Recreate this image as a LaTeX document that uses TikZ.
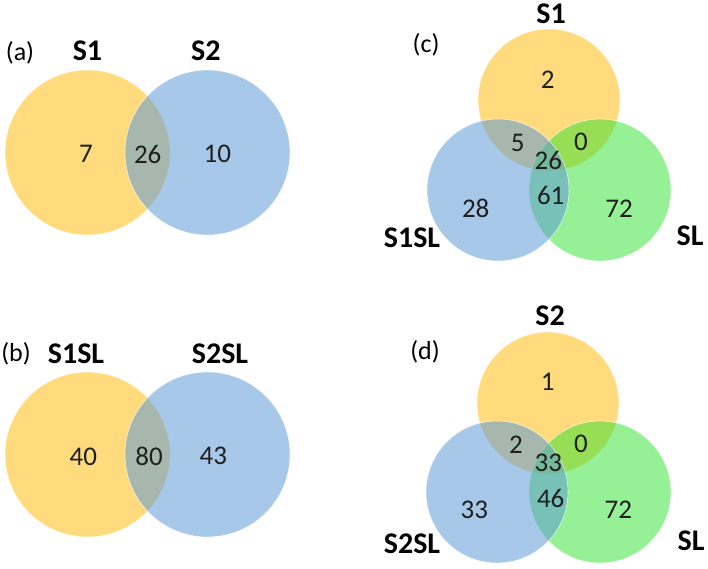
\documentclass[tikz,border=0pt]{standalone}
\usepackage{fontspec}
\setmainfont{Carlito}
\begin{document}
\begin{tikzpicture}[x=1pt,y=-1pt,
  vset/.style={circle, inner sep=0pt, fill opacity=0.55, draw=white, draw opacity=0.7, line width=0.6pt},
  ycirc/.style={vset, fill={rgb,255:red,255;green,190;blue,20}},
  bcirc/.style={vset, fill={rgb,255:red,95;green,155;blue,213}},
  gcirc/.style={vset, fill opacity=0.5, fill={rgb,255:red,45;green,225;blue,45}},
  num/.style={inner sep=0pt, font=\fontsize{27}{27}\selectfont, text=black!88},
  setlab/.style={inner sep=0pt, font=\fontsize{30}{30}\selectfont\bfseries},
  panel/.style={inner sep=0pt, font=\fontsize{26}{26}\selectfont}]
\useasboundingbox (0,0) rectangle (708,568);

% (a)
\node[ycirc, minimum size=165pt] (a1) at (87.5,152.5) {};
\node[bcirc, minimum size=165pt] (a2) at (207.5,152.5) {};
\node[panel] (pa) at (20,52.7) {(a)};
\node[setlab] (la1) at (87.5,51) {S1};
\node[setlab] (la2) at (205.8,51) {S2};
\node[num] (na1) at (86,154) {7};
\node[num] (na2) at (147.7,154) {26};
\node[num] (na3) at (217.3,154) {10};

% (b)
\node[ycirc, minimum size=165pt] (b1) at (87.5,454.5) {};
\node[bcirc, minimum size=165pt] (b2) at (207.5,454.5) {};
\node[panel] (pb) at (16,353.8) {(b)};
\node[setlab] (lb1) at (76,353.5) {S1SL};
\node[setlab] (lb2) at (220,353.5) {S2SL};
\node[num] (nb1) at (83.3,456.7) {40};
\node[num] (nb2) at (149,456.7) {80};
\node[num] (nb3) at (213.3,455.7) {43};

% (c)
\node[ycirc, minimum size=142pt] (c1) at (549,100) {};
\node[gcirc, minimum size=142pt] (c3) at (600,190) {};
\node[bcirc, minimum size=142pt] (c2) at (498,190) {};
\node[panel] (pc) at (426,45) {(c)};
\node[setlab] (lc1) at (551,14) {S1};
\node[setlab] (lc2) at (412,238) {S1SL};
\node[setlab] (lc3) at (690,236) {SL};
\node[num] (nc1) at (547.7,80) {2};
\node[num] (nc2) at (517.7,142.7) {5};
\node[num] (nc3) at (581,141.7) {0};
\node[num] (nc4) at (548.3,160.7) {26};
\node[num] (nc5) at (550.7,195) {61};
\node[num] (nc6) at (475.7,208.3) {28};
\node[num] (nc7) at (619,208.3) {72};

% (d)
\node[ycirc, minimum size=142pt] (d1) at (548,403) {};
\node[gcirc, minimum size=142pt] (d3) at (600,492) {};
\node[bcirc, minimum size=142pt] (d2) at (497,492) {};
\node[panel] (pd) at (425,352) {(d)};
\node[setlab] (ld1) at (550,316) {S2};
\node[setlab] (ld2) at (412,544) {S2SL};
\node[setlab] (ld3) at (691,541) {SL};
\node[num] (nd1) at (547.7,381.7) {1};
\node[num] (nd2) at (516,445) {2};
\node[num] (nd3) at (581,444) {0};
\node[num] (nd4) at (548.3,463.3) {33};
\node[num] (nd5) at (550.7,498.3) {46};
\node[num] (nd6) at (474.3,510) {33};
\node[num] (nd7) at (618.3,510) {72};
\end{tikzpicture}
\end{document}
